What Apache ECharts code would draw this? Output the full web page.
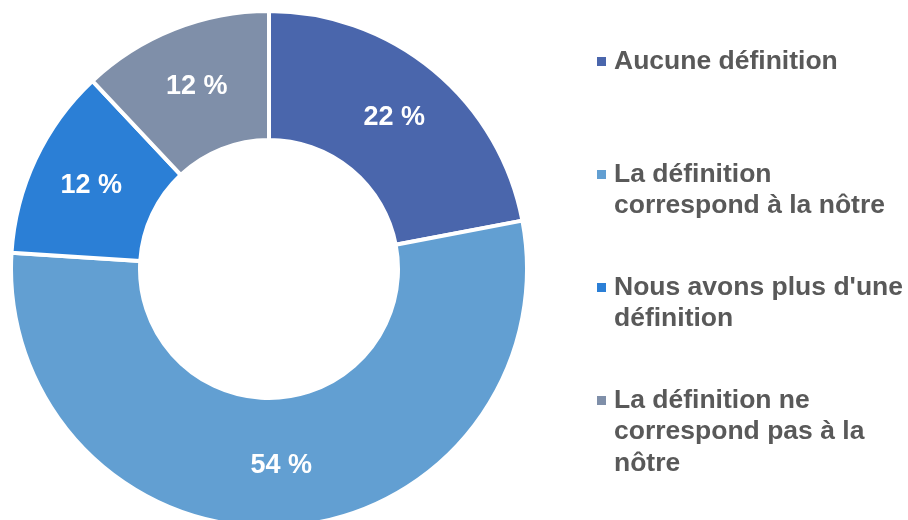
<!DOCTYPE html>
<html>
<head>
<meta charset="utf-8">
<script src="https://cdn.jsdelivr.net/npm/echarts@6/dist/echarts.min.js"></script>
<style>
html, body { margin: 0; padding: 0; background: #fff; }
#main { width: 908px; height: 520px; }
</style>
</head>
<body>
<div id="main"></div>
<script>
var categories = ['Aucune définition', 'La définition correspond à la nôtre', "Nous avons plus d'une définition", 'La définition ne correspond pas à la nôtre'];
var legendLines = [['Aucune définition'], ['La définition', 'correspond à la nôtre'], ["Nous avons plus d'une", 'définition'], ['La définition ne', 'correspond pas à la', 'nôtre']];
var values = [22, 54, 12, 12];
var colors = ['#4A66AC', '#629FD2', '#2B7FD6', '#7F8FA9'];
var legendCenters = [61.5, 174.5, 287.5, 400.5];

var myChart = echarts.init(document.getElementById('main'));
var lineH = 31.5;

// one legend per item so the marker sits on the first text line
var legends = categories.map(function (name, i) {
    var n = legendLines[i].length;
    var blank = new Array(n).join('\n');
    return {
        orient: 'vertical',
        left: 597,
        top: legendCenters[i] - (2 * n - 1) * lineH / 2,
        padding: 0,
        icon: 'rect',
        itemWidth: 9,
        itemHeight: 9,
        itemStyle: { borderWidth: 0 },
        selectedMode: false,
        data: [name],
        formatter: function () { return blank + legendLines[i].join('\n'); },
        textStyle: {
            fontFamily: 'Liberation Sans, Arial, sans-serif',
            fontWeight: 'bold',
            fontSize: 26.5,
            color: '#595959',
            lineHeight: lineH,
            padding: [0, 0, 0, 3]
        }
    };
});

var option = {
    animation: false,
    color: colors,
    legend: legends,
    series: [
        {
            type: 'pie',
            center: [269, 269],
            radius: [129, 258],
            startAngle: 90,
            clockwise: true,
            itemStyle: {
                borderColor: '#ffffff',
                borderWidth: 4
            },
            label: {
                position: 'inside',
                formatter: '{c} %',
                color: '#ffffff',
                fontFamily: 'Liberation Sans, Arial, sans-serif',
                fontWeight: 'bold',
                fontSize: 27,
                padding: [4, 0, 0, 0]
            },
            labelLine: { show: false },
            emphasis: { disabled: true },
            data: categories.map(function (c, i) {
                return { name: c, value: values[i] };
            })
        }
    ]
};

myChart.setOption(option);
</script>
</body>
</html>
